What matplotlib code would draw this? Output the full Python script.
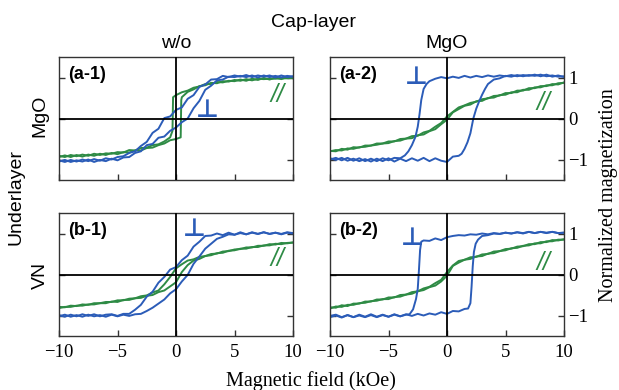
import matplotlib
matplotlib.use("Agg")
import matplotlib.pyplot as plt

# field grid (kOe) shared by the smooth branches
field = [-10.0, -9.5, -9.0, -8.5, -8.0, -7.5, -7.0, -6.5, -6.0, -5.5, -5.0,
         -4.5, -4.0, -3.5, -3.0, -2.5, -2.0, -1.5, -1.0, -0.5, 0.0,
         0.5, 1.0, 1.5, 2.0, 2.5, 3.0, 3.5, 4.0, 4.5, 5.0,
         5.5, 6.0, 6.5, 7.0, 7.5, 8.0, 8.5, 9.0, 9.5, 10.0]

# (a-1) MgO underlayer, no cap
a1_perp_dn = [-1.02, -1.06, -1.01, -1.05, -1.0, -1.04, -0.99, -1.03, -0.97, -1.0, -0.94,
              -0.92, -0.84, -0.8, -0.67, -0.57, -0.35, -0.25, 0.01, 0.05, 0.21,
              0.27, 0.48, 0.57, 0.77, 0.83, 0.95, 0.96, 1.04, 1.01, 1.05,
              1.02, 1.06, 1.01, 1.05, 1.02, 1.05, 1.0, 1.05, 1.01, 1.03]
a1_perp_up = [-1.05, -1.01, -1.06, -1.02, -1.05, -1.0, -1.06, -1.01, -1.04, -0.98, -1.02,
              -0.95, -0.94, -0.84, -0.8, -0.65, -0.62, -0.47, -0.44, -0.3, -0.22,
              -0.09, 0.0, 0.25, 0.43, 0.7, 0.8, 0.93, 0.95, 1.02, 1.01,
              1.04, 1.01, 1.05, 1.0, 1.05, 1.01, 1.04, 1.0, 1.04, 1.02]
a1_par_dn_h = [10, 9.5, 9, 8.5, 8, 7.5, 7, 6.5, 6, 5.5, 5, 4.5, 4, 3.5, 3, 2.5, 2, 1.5, 1, 0.5, 0,
               -0.25, -0.3, -0.5, -1, -1.5, -2, -2.5, -3, -3.5, -4, -4.5, -5, -5.5, -6, -6.5,
               -7, -7.5, -8, -8.5, -9, -9.5, -10]
a1_par_dn = [0.98, 1.01, 0.96, 1.0, 0.95, 0.99, 0.94, 0.97, 0.92, 0.95, 0.91, 0.92, 0.88, 0.89,
             0.84, 0.84, 0.78, 0.75, 0.68, 0.64, 0.57, 0.52, -0.3, -0.46, -0.56, -0.63, -0.65,
             -0.71, -0.72, -0.78, -0.77, -0.83, -0.82, -0.86, -0.85, -0.89, -0.86, -0.91, -0.88,
             -0.92, -0.89, -0.94, -0.91]
a1_par_up_h = [-10, -9.5, -9, -8.5, -8, -7.5, -7, -6.5, -6, -5.5, -5, -4.5, -4, -3.5, -3, -2.5,
               -2, -1.5, -1, -0.5, 0, 0.4, 0.45, 0.5, 1, 1.5, 2, 2.5, 3, 3.5, 4, 4.5, 5, 5.5,
               6, 6.5, 7, 7.5, 8, 8.5, 9, 9.5, 10]
a1_par_up = [-0.94, -0.9, -0.94, -0.89, -0.93, -0.88, -0.91, -0.86, -0.89, -0.84, -0.87, -0.82,
             -0.83, -0.78, -0.78, -0.72, -0.71, -0.65, -0.61, -0.53, -0.5, -0.46, 0.45, 0.52,
             0.65, 0.71, 0.79, 0.81, 0.87, 0.86, 0.91, 0.9, 0.94, 0.92, 0.96, 0.93, 0.97,
             0.96, 0.97, 0.97, 0.98, 0.98, 0.99]

# (a-2) MgO underlayer, MgO cap
a2_perp_dn_h = [10, 9.5, 9, 8.5, 8, 7.5, 7, 6.5, 6, 5.5, 5, 4.5, 4, 3.5, 3, 2.5, 2, 1.5, 1, 0.5,
                0, -0.5, -1, -1.5, -1.75, -2.0, -2.2, -2.35, -2.5, -2.7, -3.0, -3.3, -3.6, -4,
                -4.5, -5, -5.5, -6, -6.5, -7, -7.5, -8, -8.5, -9, -9.5, -10]
a2_perp_dn = [1.01, 1.05, 1.02, 1.07, 1.03, 1.07, 1.04, 1.06, 1.03, 1.06, 1.03, 1.05, 1.02,
              1.05, 1.01, 1.04, 1.0, 1.04, 0.99, 1.02, 0.98, 1.01, 0.97, 0.91, 0.84, 0.72,
              0.45, 0.1, -0.2, -0.45, -0.65, -0.8, -0.9, -0.97, -0.96, -1.02, -0.97, -1.04,
              -0.98, -1.04, -0.97, -1.03, -0.96, -1.02, -0.96, -1.0]
a2_perp_up_h = [-10, -9.5, -9, -8.5, -8, -7.5, -7, -6.5, -6, -5.5, -5, -4.5, -4, -3.5, -3, -2.5,
                -2, -1.5, -1, -0.5, 0, 0.5, 1, 1.25, 1.5, 1.75, 2, 2.25, 2.5, 2.75, 3, 3.25,
                3.5, 4, 4.5, 5, 5.5, 6, 6.5, 7, 7.5, 8, 8.5, 9, 9.5, 10]
a2_perp_up = [-0.97, -1.01, -0.96, -1.03, -0.98, -1.04, -0.99, -1.05, -0.98, -1.04, -0.97, -1.05,
              -0.98, -1.04, -0.97, -1.03, -0.96, -1.04, -0.97, -1.03, -1.06, -0.93, -0.91,
              -0.86, -0.74, -0.58, -0.36, 0.0, 0.24, 0.42, 0.58, 0.72, 0.84, 0.95, 0.98, 1.04,
              1.02, 1.06, 1.03, 1.06, 1.04, 1.07, 1.03, 1.05, 1.02, 1.03]
a2_par_up = [-0.8, -0.77, -0.78, -0.73, -0.74, -0.7, -0.69, -0.66, -0.64, -0.61, -0.6,
             -0.55, -0.54, -0.49, -0.48, -0.41, -0.39, -0.31, -0.26, -0.14, -0.03,
             0.15, 0.23, 0.31, 0.34, 0.42, 0.43, 0.5, 0.51, 0.57, 0.58,
             0.64, 0.64, 0.7, 0.7, 0.76, 0.76, 0.81, 0.81, 0.86, 0.87]
a2_par_dn = [-0.79, -0.8, -0.74, -0.76, -0.7, -0.71, -0.66, -0.66, -0.61, -0.61, -0.56,
             -0.56, -0.5, -0.49, -0.43, -0.42, -0.34, -0.3, -0.2, -0.11, 0.05,
             0.16, 0.27, 0.32, 0.38, 0.41, 0.47, 0.49, 0.55, 0.56, 0.62,
             0.62, 0.68, 0.68, 0.74, 0.74, 0.79, 0.79, 0.84, 0.83, 0.88]

# (b-1) VN underlayer, no cap
b1_perp_dn = [-0.99, -1.03, -0.98, -1.02, -0.97, -1.01, -0.97, -1.02, -0.98, -0.97, -1.01,
              -0.96, -0.96, -0.86, -0.74, -0.54, -0.42, -0.2, -0.06, 0.12, 0.18,
              0.35, 0.46, 0.68, 0.8, 0.94, 0.95, 1.0, 0.96, 1.02, 0.97,
              1.03, 0.98, 1.03, 0.99, 1.03, 0.99, 1.02, 0.98, 1.02, 1.0]
b1_perp_up = [-1.02, -0.98, -1.03, -0.99, -1.03, -0.98, -1.02, -0.99, -1.03, -0.98, -1.02,
              -0.98, -1.01, -0.97, -0.96, -0.89, -0.81, -0.71, -0.61, -0.46, -0.36,
              -0.17, -0.01, 0.26, 0.44, 0.63, 0.75, 0.87, 0.92, 0.98, 0.97,
              1.01, 0.98, 1.02, 0.99, 1.03, 0.99, 1.02, 0.99, 1.03, 1.01]
b1_par_dn = [-0.79, -0.8, -0.76, -0.77, -0.73, -0.74, -0.7, -0.7, -0.67, -0.67, -0.63,
             -0.63, -0.59, -0.58, -0.53, -0.51, -0.44, -0.39, -0.24, -0.06, 0.15,
             0.25, 0.34, 0.37, 0.43, 0.45, 0.5, 0.51, 0.56, 0.57, 0.61,
             0.62, 0.66, 0.66, 0.7, 0.7, 0.74, 0.73, 0.77, 0.76, 0.78]
b1_par_up = [-0.82, -0.79, -0.79, -0.76, -0.76, -0.73, -0.73, -0.7, -0.7, -0.66, -0.67,
             -0.62, -0.62, -0.58, -0.57, -0.52, -0.5, -0.43, -0.39, -0.29, -0.19,
             0.06, 0.23, 0.34, 0.38, 0.45, 0.47, 0.52, 0.53, 0.58, 0.59,
             0.63, 0.63, 0.67, 0.67, 0.71, 0.71, 0.75, 0.74, 0.77, 0.78]

# (b-2) VN underlayer, MgO cap
b2_perp_dn_h = [-10, -9.5, -9, -8.5, -8, -7.5, -7, -6.5, -6, -5.5, -5, -4.5, -4, -3.5, -3.2,
                -2.9, -2.65, -2.5, -2.4, -2.3, -2.2, -2.0, -1.5, -1, -0.5, 0, 0.5, 1, 1.5, 2,
                2.5, 3, 3.5, 4, 4.5, 5, 5.5, 6, 6.5, 7, 7.5, 8, 8.5, 9, 9.5, 10]
b2_perp_dn = [-1.01, -0.98, -1.04, -0.99, -1.04, -0.98, -1.03, -0.97, -1.03, -0.98, -1.03, -0.97,
              -1.02, -0.98, -0.97, -0.85, -0.6, -0.35, 0.1, 0.6, 0.8, 0.83, 0.82, 0.88, 0.84,
              0.91, 0.94, 0.96, 0.95, 0.98, 0.97, 1.0, 0.98, 1.01, 0.99, 1.02, 1.0, 1.03, 1.01,
              1.04, 1.01, 1.04, 1.02, 1.04, 1.01, 1.02]
b2_perp_up_h = [-10, -9.5, -9, -8.5, -8, -7.5, -7, -6.5, -6, -5.5, -5, -4.5, -4, -3.5, -3, -2.5,
                -2, -1.5, -1, -0.5, 0, 0.5, 1, 1.5, 1.8, 2.0, 2.1, 2.2, 2.3, 2.45, 2.65, 3,
                3.5, 4, 4.5, 5, 5.5, 6, 6.5, 7, 7.5, 8, 8.5, 9, 9.5, 10]
b2_perp_up = [-1.04, -1.0, -1.05, -0.99, -1.04, -1.0, -1.04, -0.99, -1.04, -0.99, -1.03, -0.98,
              -1.02, -0.97, -1.01, -0.96, -1.0, -0.95, -0.98, -0.92, -0.96, -0.89, -0.9,
              -0.84, -0.83, -0.7, -0.3, 0.2, 0.55, 0.75, 0.85, 0.94, 0.96, 1.0, 0.99, 1.02,
              1.0, 1.03, 1.0, 1.04, 1.01, 1.04, 1.01, 1.04, 1.01, 1.02]
b2_par_up = [-0.83, -0.78, -0.79, -0.74, -0.74, -0.7, -0.69, -0.65, -0.64, -0.6, -0.6,
             -0.55, -0.54, -0.49, -0.47, -0.41, -0.38, -0.31, -0.27, -0.17, -0.03,
             0.21, 0.29, 0.36, 0.38, 0.44, 0.45, 0.51, 0.52, 0.57, 0.59,
             0.64, 0.65, 0.7, 0.71, 0.76, 0.76, 0.81, 0.81, 0.85, 0.85]
b2_par_dn = [-0.8, -0.81, -0.75, -0.77, -0.71, -0.71, -0.66, -0.66, -0.61, -0.61, -0.56,
             -0.56, -0.5, -0.49, -0.43, -0.41, -0.34, -0.3, -0.21, -0.13, 0.06,
             0.22, 0.33, 0.36, 0.42, 0.43, 0.49, 0.5, 0.56, 0.57, 0.62,
             0.63, 0.68, 0.69, 0.74, 0.74, 0.79, 0.79, 0.84, 0.83, 0.86]

panel_labels = ["(a-1)", "(a-2)", "(b-1)", "(b-2)"]
perp_pos = [(2.7, 0.2), (-2.6, 1.0), (1.6, 1.1), (-3.0, 0.9)]
par_pos = [(8.7, 0.57), (8.2, 0.39), (8.7, 0.38), (8.2, 0.29)]

BLUE = "#2b5cb8"
GREEN = "#2e8b45"

fig = plt.figure(figsize=(6.19, 3.9), dpi=100)
W, H = 619.0, 390.0
lefts = [59, 330, 59, 330]
bottoms = [180, 180, 336, 336]
axes = [fig.add_axes([l / W, 1 - b / H, 234 / W, 123 / H]) for l, b in zip(lefts, bottoms)]

curves = [
    [(a1_par_dn_h, a1_par_dn, GREEN), (a1_par_up_h, a1_par_up, GREEN),
     (field, a1_perp_dn, BLUE), (field, a1_perp_up, BLUE)],
    [(field, a2_par_dn, GREEN), (field, a2_par_up, GREEN),
     (a2_perp_dn_h, a2_perp_dn, BLUE), (a2_perp_up_h, a2_perp_up, BLUE)],
    [(field, b1_par_dn, GREEN), (field, b1_par_up, GREEN),
     (field, b1_perp_dn, BLUE), (field, b1_perp_up, BLUE)],
    [(field, b2_par_dn, GREEN), (field, b2_par_up, GREEN),
     (b2_perp_dn_h, b2_perp_dn, BLUE), (b2_perp_up_h, b2_perp_up, BLUE)],
]

for i, ax in enumerate(axes):
    for h, m, c in curves[i]:
        ax.plot(h, m, color=c, lw=1.4, zorder=2)
    ax.axhline(0, color="black", lw=1.3, zorder=3)
    ax.axvline(0, color="black", lw=1.3, zorder=3)
    ax.set_xlim(-10, 10)
    ax.set_ylim(-1.5, 1.5)
    ax.set_xticks([-10, -5, 0, 5, 10])
    ax.set_yticks([-1, 0, 1])
    for s in ax.spines.values():
        s.set_linewidth(1.0)
        s.set_color("#333333")
    ax.tick_params(direction="in", length=4, width=1, color="#333333",
                   left=True, right=True, top=False, bottom=True,
                   labelleft=False, labelright=(i % 2 == 1),
                   labelbottom=(i >= 2), pad=6, labelsize=13.5)
    ax.tick_params(axis="y", pad=3)
    for lab in ax.get_xticklabels() + ax.get_yticklabels():
        lab.set_family("Liberation Serif")
    ax.text(0.04, 0.855, panel_labels[i], transform=ax.transAxes, ha="left", va="center",
            fontsize=13, fontweight="bold", family="Liberation Sans")
    ax.text(perp_pos[i][0], perp_pos[i][1], "⊥", color=BLUE, ha="center", va="center",
            fontsize=18, fontweight="bold", family="DejaVu Sans")
    ax.text(par_pos[i][0], par_pos[i][1], "//", color=GREEN, ha="center", va="center",
            fontsize=18, style="italic", family="Liberation Sans")

sans = "Liberation Sans"
fig.text(313 / W, 1 - 27 / H, "Cap-layer", ha="center", va="baseline", fontsize=14, family=sans)
fig.text(176 / W, 1 - 48 / H, "w/o", ha="center", va="baseline", fontsize=14, family=sans)
fig.text(447 / W, 1 - 48 / H, "MgO", ha="center", va="baseline", fontsize=14, family=sans)
fig.text(16 / W, 1 - 197 / H, "Underlayer", ha="center", va="center", rotation=90,
         fontsize=14, family=sans)
fig.text(40 / W, 1 - 116 / H, "MgO", ha="center", va="center", rotation=90,
         fontsize=14, family=sans)
fig.text(40 / W, 1 - 275 / H, "VN", ha="center", va="center", rotation=90,
         fontsize=14, family=sans)
fig.text(311 / W, 1 - 381 / H, "Magnetic field (kOe)", ha="center", va="center",
         fontsize=14.5, family="Liberation Serif")
fig.text(608 / W, 1 - 195 / H, "Normalized magnetization", ha="center", va="center",
         rotation=90, fontsize=14.5, family="Liberation Serif")

fig.savefig("out.png", dpi=100)
